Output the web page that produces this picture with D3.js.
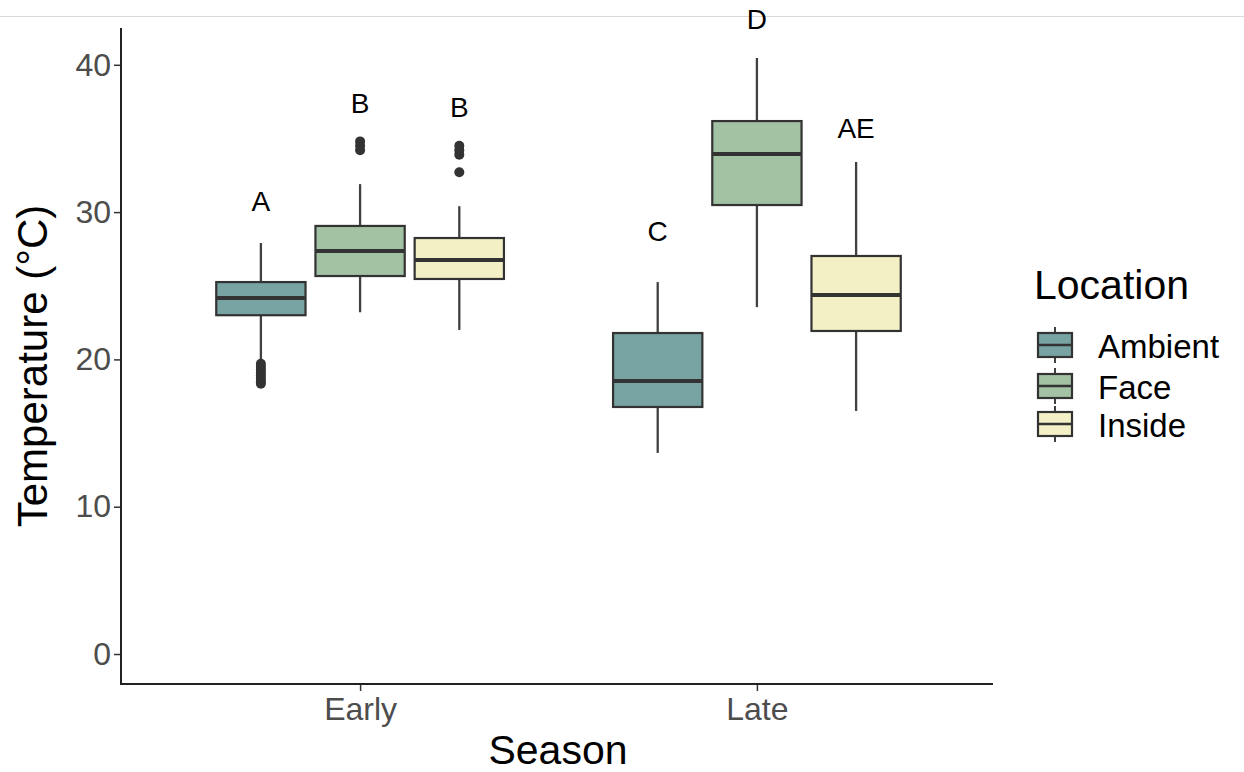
<!DOCTYPE html>
<html>
<head>
<meta charset="utf-8">
<script src="https://cdn.jsdelivr.net/npm/d3@7"></script>
<style>
  html, body { margin: 0; padding: 0; background: #ffffff; }
  svg { display: block; font-family: "Liberation Sans", Arial, Helvetica, sans-serif; }
</style>
</head>
<body>
<svg id="chart" width="1244" height="772"></svg>
<script>
// Seasons on the x axis and locations within each season
const seasons = ["Early", "Late"];
const locations = ["Ambient", "Face", "Inside"];
const fills = ["#77a3a3", "#a3c1a3", "#f3f0c6"];

// Five-number summaries (°C), one per season × location, in location order
const lowWhisker  = [[19.9, 23.2, 22.0], [13.65, 23.55, 16.5]];
const quart1      = [[23.0, 25.66, 25.46], [16.77, 30.48, 21.93]];
const medians     = [[24.17, 27.36, 26.75], [18.53, 33.94, 24.37]];
const quart3      = [[25.25, 29.06, 28.24], [21.79, 36.18, 27.02]];
const highWhisker = [[27.9, 31.9, 30.4], [25.25, 40.46, 33.4]];

// Outlying observations
const outliers = [
  [[19.7, 19.5, 19.3, 19.1, 18.9, 18.7, 18.5, 18.35], [34.8, 34.5, 34.2], [34.5, 34.2, 33.9, 32.7]],
  [[], [], []]
];

// Significance letters and the height they sit at
const letters = [["A", "B", "B"], ["C", "D", "AE"]];
const letterY = [[30.7, 37.4, 37.1], [28.7, 43.1, 35.7]];

const yTicks = [0, 10, 20, 30, 40];

const svg = d3.select("#chart");

// thin rule along the top of the page
svg.append("line")
  .attr("x1", 0).attr("x2", 1244).attr("y1", 16.5).attr("y2", 16.5)
  .attr("stroke", "#d9d9d9").attr("stroke-width", 1.2);

const panel = { left: 121, right: 995, top: 28, bottom: 684 };

const x = d3.scalePoint().domain(seasons).range([panel.left + 1, panel.right]).padding(0.6);
const step = x.step();
const xInner = d3.scaleBand().domain(locations).range([-0.375 * step, 0.375 * step]);
const boxW = xInner.bandwidth() * 0.9;

const y = d3.scaleLinear().domain([0, 40]).range([654, 64.8]);

// y axis
const yAxis = d3.axisLeft(y).tickValues(yTicks).tickSize(7).tickPadding(3);
const gy = svg.append("g").attr("transform", `translate(${panel.left},0)`).call(yAxis);
gy.select(".domain").remove();
gy.selectAll(".tick line").attr("stroke", "#333").attr("stroke-width", 1.5);
gy.selectAll(".tick text").attr("fill", "#4d4d4d").attr("font-size", 32)
  .attr("font-family", "Liberation Sans, Arial, sans-serif");

// x axis
const xAxis = d3.axisBottom(x).tickSize(7).tickPadding(6);
const gx = svg.append("g").attr("transform", `translate(0,${panel.bottom})`).call(xAxis);
gx.select(".domain").remove();
gx.selectAll(".tick line").attr("stroke", "#333").attr("stroke-width", 1.5);
gx.selectAll(".tick text").attr("fill", "#4d4d4d").attr("font-size", 32)
  .attr("font-family", "Liberation Sans, Arial, sans-serif");

// axis lines
svg.append("path")
  .attr("d", `M${panel.left},${panel.top}V${panel.bottom}H${panel.right - 2}`)
  .attr("fill", "none").attr("stroke", "#222").attr("stroke-width", 2);

// build flat records for drawing
const boxes = [];
seasons.forEach((s, si) => {
  locations.forEach((loc, li) => {
    boxes.push({
      season: s, loc, li,
      lo: lowWhisker[si][li], q1: quart1[si][li], med: medians[si][li],
      q3: quart3[si][li], hi: highWhisker[si][li],
      out: outliers[si][li], letter: letters[si][li], ly: letterY[si][li],
      cx: x(s) + xInner(loc) + xInner.bandwidth() / 2
    });
  });
});

const g = svg.append("g");
const bx = g.selectAll("g.box").data(boxes).join("g").attr("class", "box");

// whiskers
bx.append("line")
  .attr("x1", d => d.cx).attr("x2", d => d.cx)
  .attr("y1", d => y(d.hi)).attr("y2", d => y(d.q3))
  .attr("stroke", "#404040").attr("stroke-width", 2.3);
bx.append("line")
  .attr("x1", d => d.cx).attr("x2", d => d.cx)
  .attr("y1", d => y(d.q1)).attr("y2", d => y(d.lo))
  .attr("stroke", "#404040").attr("stroke-width", 2.3);

// boxes
bx.append("rect")
  .attr("x", d => d.cx - boxW / 2).attr("width", boxW)
  .attr("y", d => y(d.q3)).attr("height", d => y(d.q1) - y(d.q3))
  .attr("fill", d => fills[d.li]).attr("stroke", "#333").attr("stroke-width", 2.2);

// medians
bx.append("line")
  .attr("x1", d => d.cx - boxW / 2).attr("x2", d => d.cx + boxW / 2)
  .attr("y1", d => y(d.med)).attr("y2", d => y(d.med))
  .attr("stroke", "#333").attr("stroke-width", 4);

// outliers
bx.selectAll("circle").data(d => d.out.map(v => ({ v, cx: d.cx }))).join("circle")
  .attr("cx", d => d.cx).attr("cy", d => y(d.v)).attr("r", 5)
  .attr("fill", "#333");

// significance letters
g.selectAll("text.letter").data(boxes).join("text").attr("class", "letter")
  .attr("x", d => d.cx).attr("y", d => y(d.ly))
  .attr("text-anchor", "middle").attr("dominant-baseline", "central")
  .attr("font-size", 28).attr("fill", "#000")
  .text(d => d.letter);

// axis titles
svg.append("text")
  .attr("x", (panel.left + panel.right) / 2).attr("y", 764)
  .attr("text-anchor", "middle").attr("font-size", 41).attr("fill", "#000")
  .text("Season");
svg.append("text")
  .attr("transform", "translate(47,366) rotate(-90)")
  .attr("text-anchor", "middle").attr("font-size", 42).attr("fill", "#000")
  .text("Temperature (°C)");

// legend
const lg = svg.append("g");
lg.append("text").attr("x", 1034).attr("y", 299)
  .attr("font-size", 41).attr("fill", "#000").text("Location");
const keyX = 1038, keyW = 34, keyH = 24;
const keyCY = [345, 386, 424];
const items = lg.selectAll("g.item").data(locations).join("g").attr("class", "item");
items.append("line")
  .attr("x1", keyX + keyW / 2).attr("x2", keyX + keyW / 2)
  .attr("y1", (d, i) => keyCY[i] - 18).attr("y2", (d, i) => keyCY[i] + 18)
  .attr("stroke", "#404040").attr("stroke-width", 2);
items.append("rect")
  .attr("x", keyX).attr("width", keyW)
  .attr("y", (d, i) => keyCY[i] - keyH / 2).attr("height", keyH)
  .attr("fill", (d, i) => fills[i]).attr("stroke", "#333").attr("stroke-width", 2.2);
items.append("line")
  .attr("x1", keyX).attr("x2", keyX + keyW)
  .attr("y1", (d, i) => keyCY[i]).attr("y2", (d, i) => keyCY[i])
  .attr("stroke", "#333").attr("stroke-width", 2.5);
items.append("text")
  .attr("x", 1098).attr("y", (d, i) => keyCY[i] + 13)
  .attr("font-size", 33).attr("fill", "#000")
  .text(d => d);
</script>
</body>
</html>
